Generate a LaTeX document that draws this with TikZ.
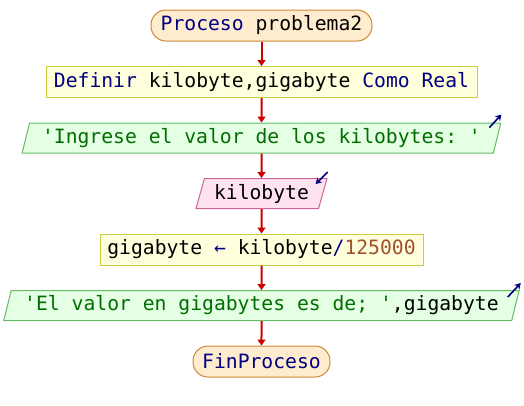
\documentclass[tikz,border=0pt]{standalone}
\usepackage{fontspec}
\setmonofont{DejaVu Sans Mono}
\usepackage{xcolor}
\usepackage{tikz}
\usetikzlibrary{shapes.geometric, arrows.meta, positioning, calc}
\definecolor{keyword}{RGB}{0, 0, 128}
\definecolor{strtext}{RGB}{0, 110, 0}
\definecolor{numtext}{RGB}{160, 82, 45}
\definecolor{flowred}{RGB}{204, 0, 0}
\definecolor{procfill}{RGB}{255, 236, 206}
\definecolor{procdraw}{RGB}{204, 136, 51}
\definecolor{deffill}{RGB}{255, 255, 221}
\definecolor{defdraw}{RGB}{204, 204, 68}
\definecolor{outfill}{RGB}{228, 255, 228}
\definecolor{outdraw}{RGB}{102, 187, 102}
\definecolor{infill}{RGB}{255, 226, 240}
\definecolor{indraw}{RGB}{204, 102, 153}

\begin{document}
\begin{tikzpicture}[
    node distance=24.5pt,
    font=\ttfamily\fontsize{19.7pt}{22pt}\selectfont,
    every node/.style={text=black},
    procbox/.style={rectangle, rounded corners=15pt, draw=procdraw, fill=procfill, line width=1pt, inner sep=0pt, minimum height=31pt},
    defbox/.style={rectangle, draw=defdraw, fill=deffill, line width=1pt, inner sep=0pt, minimum height=31pt},
    outbox/.style={trapezium, trapezium left angle=70, trapezium right angle=110, trapezium stretches=true, draw=outdraw, fill=outfill, line width=1pt, inner sep=0pt, minimum height=30pt},
    inbox/.style={outbox, draw=indraw, fill=infill},
    flow/.style={-{Triangle[length=6pt,width=8pt]}, line width=2pt, draw=flowred, fill=flowred},
    iomark/.style={-{Stealth[length=6pt,width=7pt]}, line width=1.6pt, draw=keyword, fill=keyword}
]
    \useasboundingbox (0,0) rectangle (524pt,-405pt);

    % Nodes
    \node[procbox, minimum width=221pt] (inicio) at (261.5pt,-25.5pt) {{\color{keyword}Proceso} problema2};
    \node[defbox, below=of inicio, minimum width=431pt] (definir) {{\color{keyword}Definir} kilobyte,gigabyte {\color{keyword}Como Real}};
    \node[outbox, below=of definir, minimum width=481pt] (ingrese) {{\color{strtext}'Ingrese el valor de los kilobytes: '}};
    \node[inbox, below=of ingrese, minimum width=131pt] (leer) {kilobyte};
    \node[defbox, below=of leer, minimum width=323pt] (asignar) {gigabyte {\color{keyword}←} kilobyte{\color{keyword}/}{\color{numtext}125000}};
    \node[outbox, below=of asignar, minimum width=516pt] (escribir) {{\color{strtext}'El valor en gigabytes es de; '},gigabyte};
    \node[procbox, below=of escribir, minimum width=137pt] (fin) {{\color{keyword}FinProceso}};

    % Arrows
    \draw[flow] (inicio) -- (definir);
    \draw[flow] (definir) -- (ingrese);
    \draw[flow] (ingrese) -- (leer);
    \draw[flow] (leer) -- (asignar);
    \draw[flow] (asignar) -- (escribir);
    \draw[flow] (escribir) -- (fin);

    % In/out marks
    \draw[iomark] ($(ingrese.top right corner)+(-12pt,-5pt)$) -- ($(ingrese.top right corner)+(0pt,8pt)$);
    \draw[iomark] ($(leer.top right corner)+(0pt,6pt)$) -- ($(leer.top right corner)+(-12pt,-6pt)$);
    \draw[iomark] ($(escribir.top right corner)+(-12pt,-7pt)$) -- ($(escribir.top right corner)+(1pt,7pt)$);

\end{tikzpicture}
\end{document}
